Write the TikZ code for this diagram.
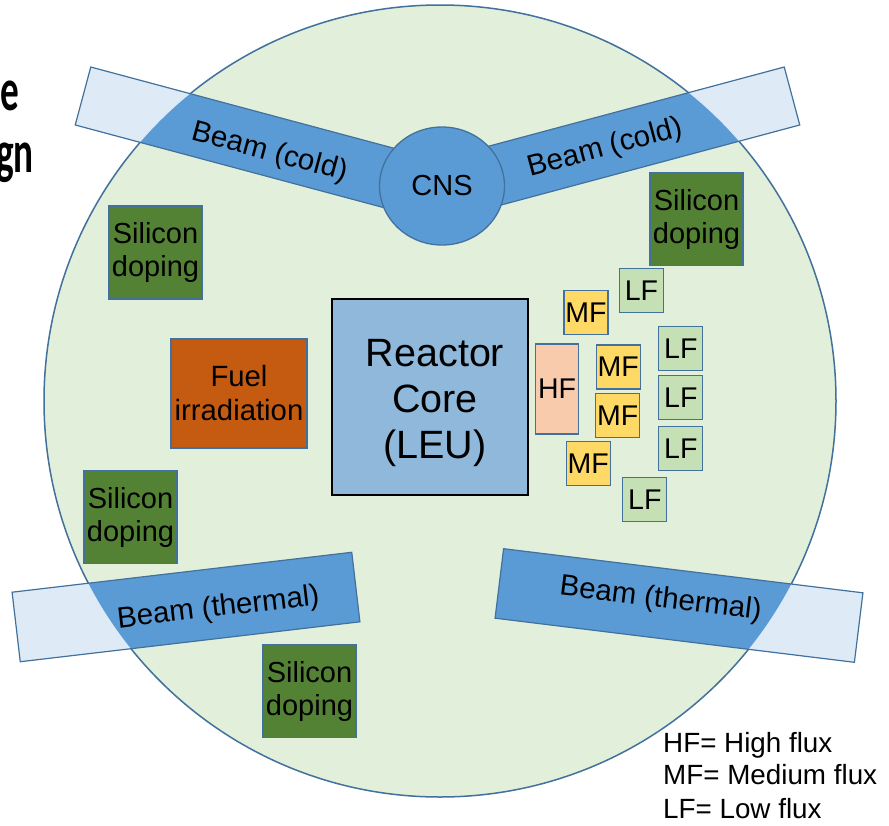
\documentclass[tikz,border=0pt]{standalone}
\usepackage{fontspec}
\setmainfont{Liberation Sans}
\newfontfamily\titlefont{Carlito}
\usetikzlibrary{shapes.geometric}
\definecolor{poolfill}{HTML}{E2EFDA}
\definecolor{edgeblue}{HTML}{41719C}
\definecolor{beamdark}{HTML}{5B9BD5}
\definecolor{beamlight}{HTML}{DEEBF7}
\definecolor{corefill}{HTML}{8FB8DA}
\definecolor{fuelfill}{HTML}{C55A11}
\definecolor{sifill}{HTML}{548235}
\definecolor{hffill}{HTML}{F8CBAD}
\definecolor{mffill}{HTML}{FFD966}
\definecolor{lffill}{HTML}{C5E0B4}
\begin{document}
\begin{tikzpicture}[x=1pt,y=-1pt,
  box/.style={draw=edgeblue, line width=1.3pt, inner sep=0pt, align=center},
  sibox/.style={box, fill=sifill, minimum width=93pt, minimum height=93pt, font=\fontsize{29}{33}\selectfont},
  fluxbox/.style={box, minimum width=44pt, minimum height=44pt, font=\fontsize{28.5}{30}\selectfont},
  mfbox/.style={fluxbox, fill=mffill},
  lfbox/.style={fluxbox, fill=lffill},
  beamtext/.style={font=\fontsize{29.5}{32}\selectfont, inner sep=0pt, anchor=base, transform shape},
  beamedge/.style={draw=edgeblue, line width=1.2pt},
  legendtext/.style={font=\fontsize{27.8}{30}\selectfont, inner sep=0pt, anchor=base west},
  titletext/.style={font=\titlefont\bfseries\fontsize{60}{60}\selectfont, inner sep=0pt, anchor=base east, xscale=0.62}
]
\useasboundingbox (0,0) rectangle (889,825);
\fill[white] (0,0) rectangle (889,825);

% partial title
\node[titletext] (title1) at (19.5,110) {e};
\node[titletext] (title2) at (34,172) {gn};

% pool
\draw[fill=poolfill, draw=edgeblue, line width=1.5pt] (440,401) circle[radius=396];

% beams: light full rectangle
\fill[beamlight, shift={(83,96)}, rotate=-15] (0,-30) rectangle (360,30);
\fill[beamlight, shift={(792,96)}, rotate=15] (-360,-30) rectangle (0,30);
\fill[beamlight, shift={(186,607)}, rotate=6.7] (-171,-35) rectangle (171,35);
\fill[beamlight, shift={(679,605.5)}, rotate=-7] (-181,-35) rectangle (181,35);
% beams: dark part inside the pool
\begin{scope}
  \clip (440,401) circle[radius=396];
  \fill[beamdark, shift={(83,96)}, rotate=-15] (0,-30) rectangle (360,30);
  \fill[beamdark, shift={(792,96)}, rotate=15] (-360,-30) rectangle (0,30);
  \fill[beamdark, shift={(186,607)}, rotate=6.7] (-171,-35) rectangle (171,35);
  \fill[beamdark, shift={(679,605.5)}, rotate=-7] (-181,-35) rectangle (181,35);
\end{scope}
\draw[beamedge, shift={(83,96)}, rotate=-15] (0,-30) rectangle (360,30);
\draw[beamedge, shift={(792,96)}, rotate=15] (-360,-30) rectangle (0,30);
\draw[beamedge, shift={(186,607)}, rotate=6.7] (-171,-35) rectangle (171,35);
\draw[beamedge, shift={(679,605.5)}, rotate=-7] (-181,-35) rectangle (181,35);

\begin{scope}[shift={(83,96)}, rotate=-15]
  \node[beamtext] (beamcoldL) at (195,14) {Beam (cold)};
\end{scope}
\begin{scope}[shift={(792,96)}, rotate=15]
  \node[beamtext] (beamcoldR) at (-194,10) {Beam (cold)};
\end{scope}
\begin{scope}[shift={(186,607)}, rotate=6.7]
  \node[beamtext] (beamthermL) at (32,13) {Beam (thermal)};
\end{scope}
\begin{scope}[shift={(679,605.5)}, rotate=-7]
  \node[beamtext] (beamthermR) at (-19,4) {Beam (thermal)};
\end{scope}

% CNS
\node[ellipse, draw=edgeblue, line width=1.3pt, fill=beamdark, minimum width=125pt, minimum height=118pt, inner sep=0pt, font=\fontsize{29}{32}\selectfont] (cns) at (442,186) {CNS};

% silicon doping
\node[sibox] (si1) at (155.5,252.5) {Silicon\\doping};
\node[sibox] (si2) at (696.5,219) {Silicon\\doping};
\node[sibox] (si3) at (130.5,517) {Silicon\\doping};
\node[sibox] (si4) at (309.5,691) {Silicon\\doping};

% fuel irradiation
\node[box, fill=fuelfill, minimum width=136pt, minimum height=109pt, font=\fontsize{29.3}{34}\selectfont] (fuel) at (239,393.5) {Fuel\\irradiation};

% reactor core
\node[draw=black, line width=1.5pt, fill=corefill, minimum width=196pt, minimum height=196pt, inner sep=0pt] (core) at (430,397) {};
\node[inner sep=0pt, align=center, font=\fontsize{39.5}{46}\selectfont] (coretext) at (435,403) {Reactor\\Core\\(LEU)};

% flux positions
\node[box, fill=hffill, minimum width=43pt, minimum height=90pt, font=\fontsize{28.5}{30}\selectfont] (hf) at (557,389) {HF};
\node[mfbox] (mf1) at (586,312.5) {MF};
\node[mfbox] (mf2) at (618.3,367) {MF};
\node[mfbox] (mf3) at (617.7,415.3) {MF};
\node[mfbox] (mf4) at (588.3,463.2) {MF};
\node[lfbox] (lf1) at (641.5,290.5) {LF};
\node[lfbox] (lf2) at (680.8,348.3) {LF};
\node[lfbox] (lf3) at (680.8,397.8) {LF};
\node[lfbox] (lf4) at (680.8,448.2) {LF};
\node[lfbox] (lf5) at (644.8,499.2) {LF};

% legend
\node[legendtext] (leg1) at (663,752) {HF= High flux};
\node[legendtext] (leg2) at (663,784) {MF= Medium flux};
\node[legendtext] (leg3) at (663,818) {LF= Low flux};
\end{tikzpicture}
\end{document}
